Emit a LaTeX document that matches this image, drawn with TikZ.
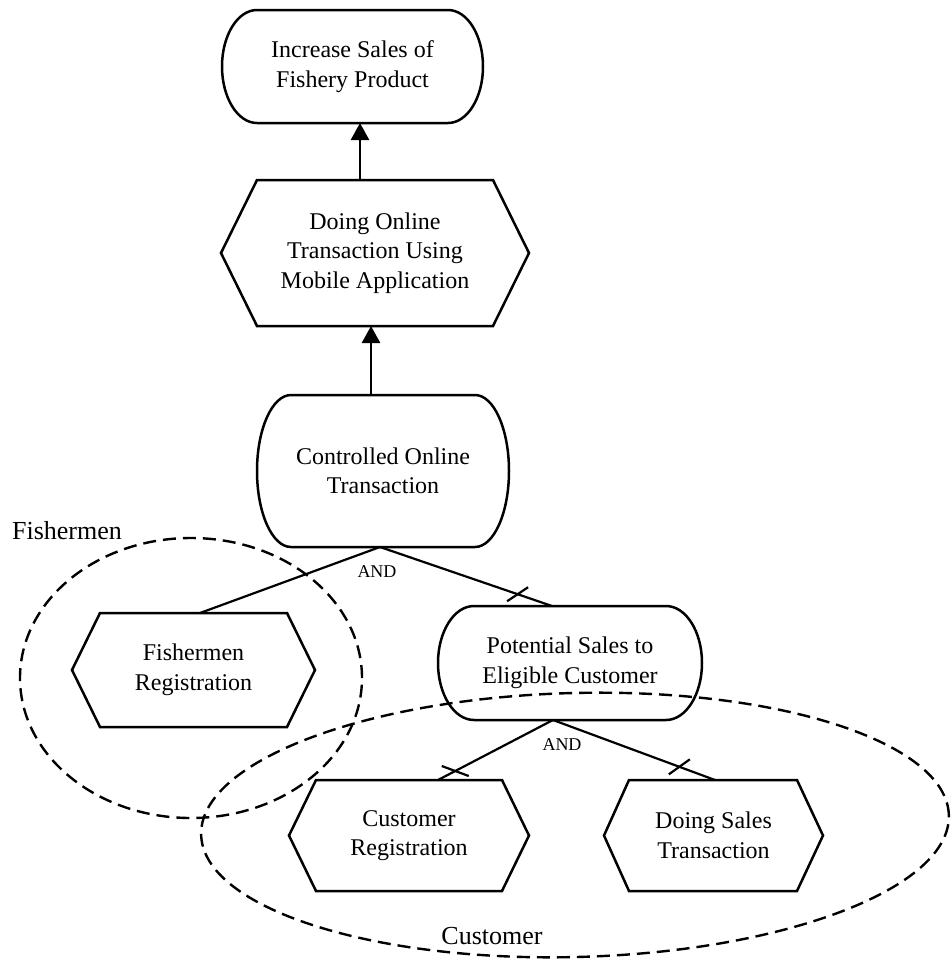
\documentclass[tikz,border=0pt]{standalone}
\usepackage{fontspec}
\setmainfont{Liberation Serif}
\usetikzlibrary{calc,arrows.meta}
\begin{document}
\begin{tikzpicture}[x=0.5pt,y=-0.5pt,
  box/.style={inner sep=0pt, outer sep=0pt, align=center, font=\fontsize{12}{14.75}\selectfont},
  outline/.style={line width=1.25pt, line join=miter},
  conn/.style={line width=1.1pt},
  arr/.style={line width=1.25pt, -{Triangle[length=8.5pt,width=9pt]}},
  grp/.style={line width=1.2pt, dash pattern=on 6.5pt off 3.5pt},
  lbl/.style={inner sep=0pt, font=\fontsize{13}{15}\selectfont},
  andlbl/.style={inner sep=0pt, font=\fontsize{9}{10}\selectfont}]

\useasboundingbox (0,0) rectangle (950,960);

% nodes (text only; outlines drawn below)
\node[box, minimum width=130.5pt, minimum height=56.5pt] (goal) at (352.5,66.5) {Increase Sales of\\Fishery Product};
\node[box, minimum width=154pt, minimum height=73pt] (online) at (375,253) {Doing Online\\Transaction Using\\Mobile Application};
\node[box, minimum width=126pt, minimum height=76pt] (ctrl) at (383,471) {Controlled Online\\Transaction};
\node[box, minimum width=121.5pt, minimum height=57pt] (fish) at (193.5,670) {Fishermen\\Registration};
\node[box, minimum width=132pt, minimum height=57pt] (pot) at (570,663) {Potential Sales to\\Eligible Customer};
\node[box, minimum width=120pt, minimum height=55.5pt] (custreg) at (409,835.5) {Customer\\Registration};
\node[box, minimum width=109.5pt, minimum height=55.5pt] (sales) at (713.5,835.5) {Doing Sales\\Transaction};

% stadium outlines
\draw[outline] ($(goal.north west)+(35,0)$) -- ($(goal.north east)+(-35,0)$)
  arc[start angle=90, end angle=-90, x radius=17.5pt, y radius=28.25pt]
  -- ($(goal.south west)+(35,0)$)
  arc[start angle=270, end angle=90, x radius=17.5pt, y radius=28.25pt] -- cycle;
\draw[outline] ($(ctrl.north west)+(34,0)$) -- ($(ctrl.north east)+(-34,0)$)
  arc[start angle=90, end angle=-90, x radius=17pt, y radius=38pt]
  -- ($(ctrl.south west)+(34,0)$)
  arc[start angle=270, end angle=90, x radius=17pt, y radius=38pt] -- cycle;
\draw[outline] ($(pot.north west)+(36,0)$) -- ($(pot.north east)+(-36,0)$)
  arc[start angle=90, end angle=-90, x radius=18pt, y radius=28.5pt]
  -- ($(pot.south west)+(36,0)$)
  arc[start angle=270, end angle=90, x radius=18pt, y radius=28.5pt] -- cycle;

% hexagon outlines
\draw[outline] (online.west) -- ($(online.north west)+(36,0)$) -- ($(online.north east)+(-36,0)$)
  -- (online.east) -- ($(online.south east)+(-36,0)$) -- ($(online.south west)+(36,0)$) -- cycle;
\draw[outline] (fish.west) -- ($(fish.north west)+(28,0)$) -- ($(fish.north east)+(-28,0)$)
  -- (fish.east) -- ($(fish.south east)+(-28,0)$) -- ($(fish.south west)+(28,0)$) -- cycle;
\draw[outline] (custreg.west) -- ($(custreg.north west)+(27,0)$) -- ($(custreg.north east)+(-27,0)$)
  -- (custreg.east) -- ($(custreg.south east)+(-27,0)$) -- ($(custreg.south west)+(27,0)$) -- cycle;
\draw[outline] (sales.west) -- ($(sales.north west)+(25,0)$) -- ($(sales.north east)+(-26,0)$)
  -- (sales.east) -- ($(sales.south east)+(-26,0)$) -- ($(sales.south west)+(25,0)$) -- cycle;

% arrows
\draw[arr] ($(online.north)+(-15,0)$) -- ($(goal.south)+(7.5,0)$);
\draw[arr] ($(ctrl.north)+(-12,0)$) -- ($(online.south)+(-4,0)$);

% AND decompositions
\coordinate (j1) at ($(ctrl.south)+(-3,0)$);
\coordinate (j2) at ($(pot.south)+(-17,0)$);
\draw[conn] (j1) -- ($(fish.north)+(6.5,0)$);
\draw[conn] (j1) -- coordinate[pos=0.8] (t1) ($(pot.north)+(-18,0)$);
\draw[conn] (j2) -- coordinate[pos=0.85] (t2) ($(custreg.north)+(29,0)$);
\draw[conn] (j2) -- coordinate[pos=0.78] (t3) ($(sales.north)+(1.5,0)$);
\draw[conn] ($(t1)+(-10.5,7)$) -- ($(t1)+(10.5,-7)$);
\draw[conn] ($(t2)+(-13.5,-5)$) -- ($(t2)+(13.5,5)$);
\draw[conn] ($(t3)+(-10.5,7.5)$) -- ($(t3)+(10.5,-7.5)$);
\node[andlbl] (and1) at (377,572) {AND};
\node[andlbl] (and2) at (562,745) {AND};

% groups
\draw[grp] (191,678) ellipse [x radius=85.5pt, y radius=70pt];
\draw[grp, rotate around={1.5:(575,825)}] (575,825) ellipse [x radius=187pt, y radius=66pt];
\node[lbl] (fishlbl) at (67,531) {Fishermen};
\node[lbl] (custlbl) at (492,936) {Customer};
\end{tikzpicture}
\end{document}
